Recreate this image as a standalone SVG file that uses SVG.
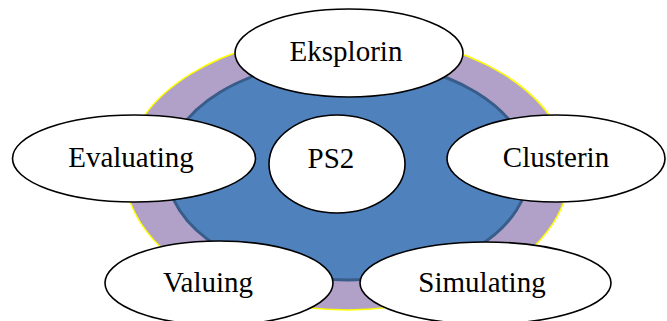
<svg xmlns="http://www.w3.org/2000/svg" width="667" height="321" viewBox="0 0 667 321">
<style>
.node ellipse{fill:#fff;stroke:#000;stroke-width:1.6}
text{font-family:"Liberation Serif","Times New Roman",serif;font-size:29px;fill:#000;text-anchor:middle}
</style>
<rect width="667" height="321" fill="#fff"/>
<g id="background">
<ellipse cx="347" cy="172" rx="222" ry="138" fill="#B1A0C7" stroke="#FFFF00" stroke-width="1.5"/>
<ellipse cx="348" cy="170" rx="181" ry="110" fill="#4F81BD" stroke="#385D8A" stroke-width="3"/>
</g>
<g id="connectors"></g>
<g id="eksplorin" class="node"><ellipse cx="349" cy="53" rx="114" ry="44"/><text x="346" y="61">Eksplorin</text></g>
<g id="evaluating" class="node"><ellipse cx="134" cy="158.5" rx="121.5" ry="43.5"/><text x="131" y="167">Evaluating</text></g>
<g id="ps2" class="node"><ellipse cx="337" cy="164" rx="68" ry="49"/><text x="331" y="168">PS2</text></g>
<g id="clusterin" class="node"><ellipse cx="556" cy="158.5" rx="109" ry="43.5"/><text x="556" y="167">Clusterin</text></g>
<g id="valuing" class="node"><ellipse cx="219" cy="283" rx="114" ry="42"/><text x="208" y="292">Valuing</text></g>
<g id="simulating" class="node"><ellipse cx="485.5" cy="283" rx="125.5" ry="41"/><text x="482" y="292">Simulating</text></g>
</svg>
